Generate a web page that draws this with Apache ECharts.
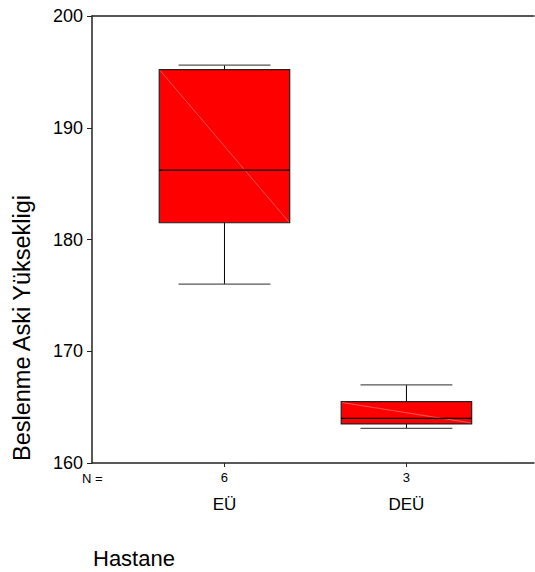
<!DOCTYPE html>
<html>
<head>
<meta charset="utf-8">
<script src="https://cdn.jsdelivr.net/npm/echarts@6/dist/echarts.min.js"></script>
<style>html,body{margin:0;padding:0;background:#fff;}#c{width:535px;height:572px;}</style>
</head>
<body>
<div id="c"></div>
<script>
const categories = ['EÜ', 'DEÜ'];
const counts = [6, 3];
const whiskerLow = [176.0, 163.1];
const q1 = [181.5, 163.5];
const median = [186.2, 164.0];
const q3 = [195.2, 165.5];
const whiskerHigh = [195.6, 167.0];
const yTicks = [160, 170, 180, 190, 200];
const yTitle = 'Beslenme Aski Yüksekligi';
const xTitle = 'Hastane';
const nLabel = 'N =';

const positions = categories.map((c, i) => i + 1);
const data = categories.map((c, i) => [positions[i], whiskerLow[i], q1[i], median[i], q3[i], whiskerHigh[i]]);

const FONT = 'Liberation Sans, Arial, sans-serif';
const BOX_W = 0.717;
const CAP_W = 0.505;

const chart = echarts.init(document.getElementById('c'), null, {renderer: 'svg'});
chart.setOption({
  animation: false,
  backgroundColor: '#fff',
  grid: {left: 92, top: 16, width: 442, height: 447},
  xAxis: [{
    type: 'value', min: 0.272, max: 2.701, position: 'bottom',
    splitLine: {show: false},
    axisLine: {show: true, lineStyle: {color: '#222', width: 1.5}},
    axisTick: {show: true, customValues: positions, length: 4, lineStyle: {color: '#222'}},
    axisLabel: {
      show: true, customValues: positions, margin: 6,
      formatter: function (v) {
        const i = Math.round(v) - 1;
        return '{n|' + counts[i] + '}\n{c|' + categories[i] + '}';
      },
      rich: {
        n: {fontSize: 13, lineHeight: 16, fontFamily: FONT, color: '#000'},
        c: {fontSize: 17, lineHeight: 38, fontFamily: FONT, color: '#000'}
      }
    }
  }, {
    type: 'value', min: 0.272, max: 2.701, position: 'top',
    splitLine: {show: false},
    axisLine: {show: true, lineStyle: {color: '#222', width: 1.5}},
    axisTick: {show: false}, axisLabel: {show: false}
  }],
  yAxis: {
    type: 'value', min: yTicks[0], max: yTicks[yTicks.length - 1], interval: 10,
    splitLine: {show: false},
    axisLine: {show: true, lineStyle: {color: '#222', width: 1.5}},
    axisTick: {show: true, inside: false, length: 5, lineStyle: {color: '#222'}},
    axisLabel: {margin: 9, fontSize: 18, fontFamily: FONT, color: '#000'}
  },
  graphic: [
    {type: 'text', x: 22, y: 328, rotation: Math.PI / 2,
     style: {text: yTitle, fontSize: 23.5, fontFamily: FONT, fill: '#000', align: 'center', verticalAlign: 'middle'}},
    {type: 'text', x: 93, y: 558,
     style: {text: xTitle, fontSize: 22, fontFamily: FONT, fill: '#000', align: 'left', verticalAlign: 'middle'}},
    {type: 'text', x: 82, y: 478,
     style: {text: nLabel, fontSize: 13, fontFamily: FONT, fill: '#000', align: 'left', verticalAlign: 'middle'}}
  ],
  series: [{
    type: 'custom',
    data: data,
    encode: {x: 0, y: [1, 2, 3, 4, 5]},
    renderItem: function (params, api) {
      const x = api.value(0);
      const pLo = api.coord([x, api.value(1)]);
      const pQ1 = api.coord([x, api.value(2)]);
      const pMed = api.coord([x, api.value(3)]);
      const pQ3 = api.coord([x, api.value(4)]);
      const pHi = api.coord([x, api.value(5)]);
      const bw = api.size([BOX_W, 0])[0];
      const cw = api.size([CAP_W, 0])[0];
      const cx = pMed[0];
      const left = cx - bw / 2, right = cx + bw / 2;
      return {
        type: 'group',
        children: [
          {type: 'line', shape: {x1: cx, y1: pHi[1], x2: cx, y2: pQ3[1]}, style: {stroke: '#000', lineWidth: 1}},
          {type: 'line', shape: {x1: cx, y1: pQ1[1], x2: cx, y2: pLo[1]}, style: {stroke: '#000', lineWidth: 1}},
          {type: 'line', shape: {x1: cx - cw / 2, y1: pHi[1], x2: cx + cw / 2, y2: pHi[1]}, style: {stroke: '#555', lineWidth: 1.2}},
          {type: 'line', shape: {x1: cx - cw / 2, y1: pLo[1], x2: cx + cw / 2, y2: pLo[1]}, style: {stroke: '#555', lineWidth: 1.2}},
          {type: 'rect', shape: {x: left, y: pQ3[1], width: bw, height: pQ1[1] - pQ3[1]}, style: {fill: '#ff0000', stroke: '#222', lineWidth: 1.2}},
          {type: 'line', shape: {x1: left + 1, y1: pQ3[1] + 1, x2: right - 1, y2: pQ1[1] - 1}, style: {stroke: '#ff7a7a', lineWidth: 0.7}},
          {type: 'line', shape: {x1: left, y1: pMed[1], x2: right, y2: pMed[1]}, style: {stroke: '#000', lineWidth: 1.2}}
        ]
      };
    }
  }]
});
</script>
</body>
</html>
